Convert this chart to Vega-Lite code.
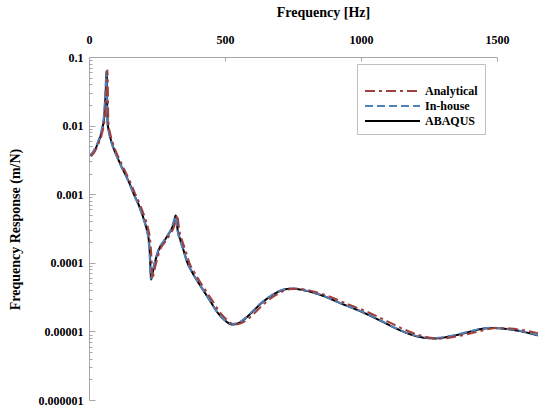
{
"$schema": "https://vega.github.io/schema/vega-lite/v6.json",
"autosize": {"type": "none"},
"padding": {"left": 89, "top": 57, "right": 41, "bottom": 7},
"width": 408,
"height": 343,
"background": "white",
"config": {"view": {"stroke": null}, "font": "Liberation Serif"},
"data": {"values": [
{"s":"ABAQUS","f":6,"v":0.0036},{"s":"ABAQUS","f":15,"v":0.0040},{"s":"ABAQUS","f":25,"v":0.0047},{"s":"ABAQUS","f":33,"v":0.0056},{"s":"ABAQUS","f":43,"v":0.0072},{"s":"ABAQUS","f":50,"v":0.0095},{"s":"ABAQUS","f":55,"v":0.0125},{"s":"ABAQUS","f":58.5,"v":0.019},{"s":"ABAQUS","f":61.5,"v":0.032},{"s":"ABAQUS","f":63.5,"v":0.050},{"s":"ABAQUS","f":65,"v":0.062},{"s":"ABAQUS","f":66.3,"v":0.035},{"s":"ABAQUS","f":67.3,"v":0.016},{"s":"ABAQUS","f":69,"v":0.0105},{"s":"ABAQUS","f":74,"v":0.0080},{"s":"ABAQUS","f":82,"v":0.0059},{"s":"ABAQUS","f":92,"v":0.0045},{"s":"ABAQUS","f":105,"v":0.0034},{"s":"ABAQUS","f":120,"v":0.0025},{"s":"ABAQUS","f":147,"v":0.0015},{"s":"ABAQUS","f":165,"v":0.0010},{"s":"ABAQUS","f":184,"v":0.00068},{"s":"ABAQUS","f":200,"v":0.00045},{"s":"ABAQUS","f":212,"v":0.00031},{"s":"ABAQUS","f":220,"v":0.00021},{"s":"ABAQUS","f":224,"v":0.00013},{"s":"ABAQUS","f":226.5,"v":0.000075},{"s":"ABAQUS","f":228,"v":0.000057},{"s":"ABAQUS","f":232,"v":0.000066},{"s":"ABAQUS","f":242,"v":0.0001},{"s":"ABAQUS","f":258,"v":0.00016},{"s":"ABAQUS","f":275,"v":0.000205},{"s":"ABAQUS","f":292,"v":0.00026},{"s":"ABAQUS","f":306,"v":0.00033},{"s":"ABAQUS","f":314,"v":0.00042},{"s":"ABAQUS","f":319,"v":0.00049},{"s":"ABAQUS","f":322,"v":0.0004},{"s":"ABAQUS","f":326,"v":0.0003},{"s":"ABAQUS","f":335,"v":0.00022},{"s":"ABAQUS","f":347,"v":0.000155},{"s":"ABAQUS","f":362,"v":0.0001},{"s":"ABAQUS","f":380,"v":0.000072},{"s":"ABAQUS","f":400,"v":0.000053},{"s":"ABAQUS","f":418,"v":0.000041},{"s":"ABAQUS","f":445,"v":0.000028},{"s":"ABAQUS","f":468,"v":0.00002},{"s":"ABAQUS","f":497,"v":0.0000148},{"s":"ABAQUS","f":527,"v":0.0000126},{"s":"ABAQUS","f":555,"v":0.0000135},{"s":"ABAQUS","f":590,"v":0.0000175},{"s":"ABAQUS","f":630,"v":0.000025},{"s":"ABAQUS","f":675,"v":0.000034},{"s":"ABAQUS","f":715,"v":0.0000405},{"s":"ABAQUS","f":745,"v":0.000042},{"s":"ABAQUS","f":800,"v":0.000039},{"s":"ABAQUS","f":860,"v":0.000033},{"s":"ABAQUS","f":922,"v":0.000026},{"s":"ABAQUS","f":1000,"v":0.0000195},{"s":"ABAQUS","f":1069,"v":0.0000145},{"s":"ABAQUS","f":1130,"v":0.000011},{"s":"ABAQUS","f":1180,"v":0.0000091},{"s":"ABAQUS","f":1230,"v":0.0000081},{"s":"ABAQUS","f":1270,"v":0.0000079},{"s":"ABAQUS","f":1330,"v":0.0000085},{"s":"ABAQUS","f":1388,"v":0.0000096},{"s":"ABAQUS","f":1440,"v":0.0000108},{"s":"ABAQUS","f":1480,"v":0.0000112},{"s":"ABAQUS","f":1520,"v":0.000011},{"s":"ABAQUS","f":1560,"v":0.0000105},{"s":"ABAQUS","f":1610,"v":0.0000096},{"s":"ABAQUS","f":1651,"v":0.0000087},
{"s":"In-house","f":5,"v":0.0037},{"s":"In-house","f":14,"v":0.0041},{"s":"In-house","f":24,"v":0.0048},{"s":"In-house","f":32,"v":0.0057},{"s":"In-house","f":42,"v":0.0074},{"s":"In-house","f":49,"v":0.0097},{"s":"In-house","f":54,"v":0.0128},{"s":"In-house","f":57.5,"v":0.020},{"s":"In-house","f":60.5,"v":0.033},{"s":"In-house","f":62.5,"v":0.051},{"s":"In-house","f":64,"v":0.061},{"s":"In-house","f":65.3,"v":0.034},{"s":"In-house","f":66.3,"v":0.016},{"s":"In-house","f":68,"v":0.0104},{"s":"In-house","f":73,"v":0.0080},{"s":"In-house","f":81,"v":0.0059},{"s":"In-house","f":91,"v":0.0045},{"s":"In-house","f":104,"v":0.0034},{"s":"In-house","f":119,"v":0.0025},{"s":"In-house","f":146,"v":0.0015},{"s":"In-house","f":164,"v":0.0010},{"s":"In-house","f":183,"v":0.00068},{"s":"In-house","f":199,"v":0.00045},{"s":"In-house","f":211,"v":0.00031},{"s":"In-house","f":219,"v":0.00021},{"s":"In-house","f":223,"v":0.00013},{"s":"In-house","f":225.5,"v":0.000076},{"s":"In-house","f":227,"v":0.000058},{"s":"In-house","f":231,"v":0.000067},{"s":"In-house","f":241,"v":0.000101},{"s":"In-house","f":257,"v":0.000161},{"s":"In-house","f":274,"v":0.000206},{"s":"In-house","f":291,"v":0.000261},{"s":"In-house","f":305,"v":0.00033},{"s":"In-house","f":313,"v":0.00042},{"s":"In-house","f":318,"v":0.00048},{"s":"In-house","f":321,"v":0.0004},{"s":"In-house","f":325,"v":0.0003},{"s":"In-house","f":334,"v":0.00022},{"s":"In-house","f":346,"v":0.000156},{"s":"In-house","f":361,"v":0.000101},{"s":"In-house","f":379,"v":0.000073},{"s":"In-house","f":399,"v":0.000054},{"s":"In-house","f":417,"v":0.000042},{"s":"In-house","f":444,"v":0.000028},{"s":"In-house","f":467,"v":0.0000202},{"s":"In-house","f":496,"v":0.000015},{"s":"In-house","f":526,"v":0.0000128},{"s":"In-house","f":554,"v":0.0000137},{"s":"In-house","f":589,"v":0.0000177},{"s":"In-house","f":629,"v":0.0000252},{"s":"In-house","f":674,"v":0.0000342},{"s":"In-house","f":714,"v":0.0000408},{"s":"In-house","f":744,"v":0.0000423},{"s":"In-house","f":799,"v":0.0000393},{"s":"In-house","f":859,"v":0.0000333},{"s":"In-house","f":921,"v":0.0000262},{"s":"In-house","f":999,"v":0.0000197},{"s":"In-house","f":1068,"v":0.0000147},{"s":"In-house","f":1129,"v":0.0000111},{"s":"In-house","f":1179,"v":0.0000092},{"s":"In-house","f":1229,"v":0.0000082},{"s":"In-house","f":1269,"v":0.000008},{"s":"In-house","f":1329,"v":0.0000086},{"s":"In-house","f":1387,"v":0.0000097},{"s":"In-house","f":1439,"v":0.0000109},{"s":"In-house","f":1479,"v":0.0000113},{"s":"In-house","f":1519,"v":0.0000111},{"s":"In-house","f":1559,"v":0.0000106},{"s":"In-house","f":1609,"v":0.0000097},{"s":"In-house","f":1651,"v":0.0000088},
{"s":"Analytical","f":8,"v":0.0036},{"s":"Analytical","f":18,"v":0.0040},{"s":"Analytical","f":28,"v":0.0047},{"s":"Analytical","f":36,"v":0.0056},{"s":"Analytical","f":46,"v":0.0072},{"s":"Analytical","f":53,"v":0.0095},{"s":"Analytical","f":57.5,"v":0.0125},{"s":"Analytical","f":61,"v":0.019},{"s":"Analytical","f":64,"v":0.032},{"s":"Analytical","f":66.3,"v":0.050},{"s":"Analytical","f":68,"v":0.064},{"s":"Analytical","f":69.3,"v":0.035},{"s":"Analytical","f":70.3,"v":0.016},{"s":"Analytical","f":72,"v":0.0105},{"s":"Analytical","f":77,"v":0.0080},{"s":"Analytical","f":85,"v":0.0060},{"s":"Analytical","f":95,"v":0.0046},{"s":"Analytical","f":108,"v":0.0035},{"s":"Analytical","f":123,"v":0.0026},{"s":"Analytical","f":150,"v":0.00155},{"s":"Analytical","f":169,"v":0.00103},{"s":"Analytical","f":188,"v":0.0007},{"s":"Analytical","f":205,"v":0.00046},{"s":"Analytical","f":217,"v":0.00032},{"s":"Analytical","f":225,"v":0.00021},{"s":"Analytical","f":229,"v":0.00013},{"s":"Analytical","f":231.5,"v":0.000076},{"s":"Analytical","f":233,"v":0.000058},{"s":"Analytical","f":237,"v":0.000067},{"s":"Analytical","f":247,"v":0.0001},{"s":"Analytical","f":263,"v":0.00016},{"s":"Analytical","f":281,"v":0.000205},{"s":"Analytical","f":298,"v":0.00026},{"s":"Analytical","f":312,"v":0.00033},{"s":"Analytical","f":320,"v":0.00043},{"s":"Analytical","f":325,"v":0.0005},{"s":"Analytical","f":328,"v":0.0004},{"s":"Analytical","f":332,"v":0.0003},{"s":"Analytical","f":341,"v":0.00022},{"s":"Analytical","f":354,"v":0.000155},{"s":"Analytical","f":369,"v":0.0001},{"s":"Analytical","f":388,"v":0.000072},{"s":"Analytical","f":408,"v":0.000053},{"s":"Analytical","f":426,"v":0.000041},{"s":"Analytical","f":454,"v":0.000028},{"s":"Analytical","f":477,"v":0.00002},{"s":"Analytical","f":507,"v":0.0000148},{"s":"Analytical","f":537,"v":0.0000126},{"s":"Analytical","f":566,"v":0.0000135},{"s":"Analytical","f":602,"v":0.0000175},{"s":"Analytical","f":642,"v":0.000025},{"s":"Analytical","f":688,"v":0.000034},{"s":"Analytical","f":729,"v":0.0000405},{"s":"Analytical","f":760,"v":0.000042},{"s":"Analytical","f":816,"v":0.000039},{"s":"Analytical","f":877,"v":0.000033},{"s":"Analytical","f":940,"v":0.000026},{"s":"Analytical","f":1020,"v":0.0000195},{"s":"Analytical","f":1090,"v":0.0000145},{"s":"Analytical","f":1152,"v":0.000011},{"s":"Analytical","f":1203,"v":0.0000091},{"s":"Analytical","f":1254,"v":0.0000081},{"s":"Analytical","f":1295,"v":0.0000079},{"s":"Analytical","f":1357,"v":0.0000085},{"s":"Analytical","f":1415,"v":0.0000096},{"s":"Analytical","f":1469,"v":0.0000108},{"s":"Analytical","f":1510,"v":0.0000112},{"s":"Analytical","f":1550,"v":0.000011},{"s":"Analytical","f":1591,"v":0.0000105},{"s":"Analytical","f":1642,"v":0.0000096},{"s":"Analytical","f":1660,"v":0.0000092}
]},
"mark": {"type": "line", "clip": false, "strokeWidth": 2, "interpolate": "monotone"},
"encoding": {
"x": {"field": "f", "type": "quantitative",
 "scale": {"domain": [0, 1500], "nice": false, "zero": false},
 "axis": {"orient": "top", "values": [0, 500, 1000, 1500], "format": "d", "title": "Frequency [Hz]",
  "titleFont": "Liberation Serif", "titleFontSize": 14, "titleFontWeight": "bold", "titleColor": "black",
  "titleX": 234, "titleY": -41, "titleBaseline": "alphabetic", "titleAlign": "center",
  "labelFont": "Liberation Serif", "labelFontSize": 12, "labelFontWeight": "bold", "labelColor": "black",
  "labelPadding": 15, "labelFlush": false, "labelAngle": 0, "labelBound": false,
  "tickSize": -4, "tickColor": "#A6A6A6", "domainColor": "#A6A6A6", "grid": false}},
"y": {"field": "v", "type": "quantitative",
 "scale": {"type": "log", "domain": [0.000001, 0.1], "nice": false},
 "axis": {"orient": "left",
  "values": [0.000001,0.000002,0.000003,0.000004,0.000005,0.000006,0.000007,0.000008,0.000009,0.00001,0.00002,0.00003,0.00004,0.00005,0.00006,0.00007,0.00008,0.00009,0.0001,0.0002,0.0003,0.0004,0.0005,0.0006,0.0007,0.0008,0.0009,0.001,0.002,0.003,0.004,0.005,0.006,0.007,0.008,0.009,0.01,0.02,0.03,0.04,0.05,0.06,0.07,0.08,0.09,0.1],
  "labelExpr": "abs(log(datum.value)/LN10 - round(log(datum.value)/LN10)) < 0.001 ? format(datum.value, '.6~f') : ''",
  "title": "Frequency Response (m/N)",
  "titleFont": "Liberation Serif", "titleFontSize": 14, "titleFontWeight": "bold", "titleColor": "black",
  "titleX": -70, "titleY": 172, "titleAngle": -90, "titleAlign": "center", "titleBaseline": "alphabetic",
  "labelFont": "Liberation Serif", "labelFontSize": 12, "labelFontWeight": "bold", "labelColor": "black",
  "labelPadding": 12, "labelOverlap": false, "labelFlush": false, "labelBound": false,
  "tickSize": {"condition": {"test": "abs(log(datum.value)/LN10 - round(log(datum.value)/LN10)) < 0.001", "value": -6}, "value": -3},
  "tickColor": "#A6A6A6", "domainColor": "#A6A6A6", "grid": false}},
"color": {"field": "s", "type": "nominal",
 "scale": {"domain": ["Analytical", "In-house", "ABAQUS"], "range": ["#A0403E", "#4F81BD", "#000000"]},
 "legend": {"title": " ", "titleFontSize": 10, "titlePadding": 2, "orient": "none", "legendX": 268, "legendY": 7, "padding": 7,
  "strokeColor": "#BFBFBF", "fillColor": "white",
  "labelFont": "Liberation Serif", "labelFontWeight": "bold", "labelFontSize": 12, "labelColor": "black",
  "symbolType": "M-1,0H6.857", "symbolSize": 196, "symbolStrokeWidth": 2, "rowPadding": 1, "labelOffset": 45}},
"strokeDash": {"field": "s", "type": "nominal",
 "scale": {"domain": ["Analytical", "In-house", "ABAQUS"], "range": [[10,4,3,4],[8,4],[1,0]]},
 "legend": {"title": " ", "titleFontSize": 10, "titlePadding": 2, "orient": "none", "legendX": 268, "legendY": 7, "padding": 7,
  "strokeColor": "#BFBFBF", "fillColor": "white",
  "labelFont": "Liberation Serif", "labelFontWeight": "bold", "labelFontSize": 12, "labelColor": "black",
  "symbolType": "M-1,0H6.857", "symbolSize": 196, "symbolStrokeWidth": 2, "rowPadding": 1, "labelOffset": 45}}
}
}
